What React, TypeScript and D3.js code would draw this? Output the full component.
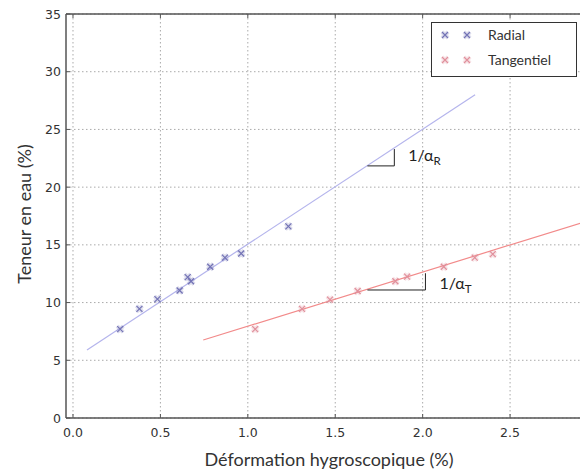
import React from "react";
import * as d3 from "d3";

const radialX = [0.27, 0.38, 0.483, 0.61, 0.656, 0.675, 0.785, 0.869, 0.962, 1.232];
const radialY = [7.7, 9.45, 10.3, 11.05, 12.2, 11.85, 13.1, 13.9, 14.25, 16.6];
const tangX = [1.042, 1.31, 1.47, 1.628, 1.844, 1.911, 2.121, 2.298, 2.401];
const tangY = [7.7, 9.45, 10.25, 11.0, 11.85, 12.25, 13.1, 13.9, 14.2];
const radialFitX = [0.08, 2.3];
const radialFitY = [5.9, 28.0];
const tangFitX = [0.745, 2.95];
const tangFitY = [6.76, 17.1];
const xTicks = [0, 0.5, 1.0, 1.5, 2.0, 2.5];
const yTicks = [0, 5, 10, 15, 20, 25, 30, 35];
const seriesNames = ["Radial", "Tangentiel"];
// slope triangles: [x0, x1, y0, y1]
const triR = [1.684, 1.838, 21.84, 23.3];
const triT = [1.684, 2.016, 11.09, 12.54];

const W = 580, H = 472;
const L = 66, R = 580, T = 14, B = 418;

const colR = "#7373b5";
const colT = "#e0909c";
const lineR = "#b4b4ec";
const lineT = "#f28a8a";

function Cross({ x, y, c }: { x: number; y: number; c: string }) {
  const s = 3;
  return (
    <g>
      <path d={`M${x - s},${y - s}L${x + s},${y + s}M${x - s},${y + s}L${x + s},${y - s}`} stroke={c} strokeOpacity={0.25} strokeWidth={4} />
      <path d={`M${x - s},${y - s}L${x + s},${y + s}M${x - s},${y + s}L${x + s},${y - s}`} stroke={c} strokeWidth={1.2} />
    </g>
  );
}

export default function App() {
  const x = d3.scaleLinear().domain([-0.04, 2.9]).range([L, R]);
  const y = d3.scaleLinear().domain([0, 35]).range([B, T]);
  const line = d3.line<[number, number]>().x((d) => x(d[0])).y((d) => y(d[1]));
  const tickFont = "DejaVu Sans, sans-serif";
  const labFont = "Lato, 'Open Sans', sans-serif";

  const tri = (t: number[]) =>
    `M${x(t[0])},${y(t[2])}L${x(t[1])},${y(t[2])}L${x(t[1])},${y(t[3])}`;

  return (
    <div style={{ position: "fixed", left: 0, top: 0 }}>
      <svg width={W} height={H} style={{ display: "block", background: "#fff" }}>
        <defs>
          <clipPath id="plot">
            <rect x={L} y={T} width={R - L} height={B - T} />
          </clipPath>
        </defs>
        {/* grid */}
        {xTicks.map((t) => (
          <line key={"gx" + t} x1={x(t)} x2={x(t)} y1={T} y2={B} stroke="#aaa" strokeWidth={1} strokeDasharray="1.5,2.5" />
        ))}
        {yTicks.map((t) => (
          <line key={"gy" + t} x1={L} x2={R} y1={y(t)} y2={y(t)} stroke="#aaa" strokeWidth={1} strokeDasharray="1.5,2.5" />
        ))}
        {/* fit lines */}
        <g clipPath="url(#plot)">
          <path d={line(radialFitX.map((v, i) => [v, radialFitY[i]]) as any) || ""} stroke={lineR} strokeWidth={1.2} fill="none" />
          <path d={line(tangFitX.map((v, i) => [v, tangFitY[i]]) as any) || ""} stroke={lineT} strokeWidth={1.2} fill="none" />
        </g>
        {/* points */}
        {radialX.map((v, i) => (
          <Cross key={"r" + i} x={x(v)} y={y(radialY[i])} c={colR} />
        ))}
        {tangX.map((v, i) => (
          <Cross key={"t" + i} x={x(v)} y={y(tangY[i])} c={colT} />
        ))}
        {/* slope triangles */}
        <path d={tri(triR)} stroke="#222" strokeWidth={1} fill="none" />
        <path d={tri(triT)} stroke="#222" strokeWidth={1} fill="none" />
        <text x={x(triR[1]) + 14} y={y(triR[2]) - 5} fontFamily={labFont} fontSize={16} fill="#222">
          1/α<tspan fontSize={11.5} dy={4}>R</tspan>
        </text>
        <text x={x(triT[1]) + 14} y={y(triT[2]) - 1} fontFamily={labFont} fontSize={16} fill="#222">
          1/α<tspan fontSize={11.5} dy={4}>T</tspan>
        </text>
        {/* spines */}
        <line x1={L} x2={L} y1={T} y2={B} stroke="#555" strokeWidth={1.5} />
        <line x1={L} x2={R} y1={B} y2={B} stroke="#555" strokeWidth={1.5} />
        <line x1={L} x2={R} y1={T} y2={T} stroke="#555" strokeWidth={1.5} />
        {/* ticks */}
        {xTicks.map((t) => (
          <g key={"tx" + t}>
            <line x1={x(t)} x2={x(t)} y1={B} y2={B - 4} stroke="#555" />
            <line x1={x(t)} x2={x(t)} y1={T} y2={T + 4} stroke="#555" />
            <text x={x(t)} y={B + 19} textAnchor="middle" fontFamily={tickFont} fontSize={12.5} fill="#333">
              {t.toFixed(1)}
            </text>
          </g>
        ))}
        {yTicks.map((t) => (
          <g key={"ty" + t}>
            <line x1={L} x2={L + 4} y1={y(t)} y2={y(t)} stroke="#555" />
            <text x={L - 5} y={y(t) + 4.5} textAnchor="end" fontFamily={tickFont} fontSize={12.5} fill="#333">
              {t}
            </text>
          </g>
        ))}
        {/* axis labels */}
        <text x={329} y={466} textAnchor="middle" fontFamily={labFont} fontSize={18} fill="#333">
          Déformation hygroscopique (%)
        </text>
        <text transform={`translate(31,214) rotate(-90)`} textAnchor="middle" fontFamily={labFont} fontSize={18} fill="#333">
          Teneur en eau (%)
        </text>
        {/* legend */}
        <rect x={431.5} y={22.5} width={145} height={54} fill="#fff" stroke="#333" strokeWidth={1} />
        {seriesNames.map((n, i) => {
          const cy = 35 + i * 25;
          const c = i === 0 ? colR : colT;
          return (
            <g key={n}>
              <Cross x={445} y={cy} c={c} />
              <Cross x={467} y={cy} c={c} />
              <text x={488} y={cy + 5} fontFamily={labFont} fontSize={14} fill="#333">
                {n}
              </text>
            </g>
          );
        })}
      </svg>
    </div>
  );
}
